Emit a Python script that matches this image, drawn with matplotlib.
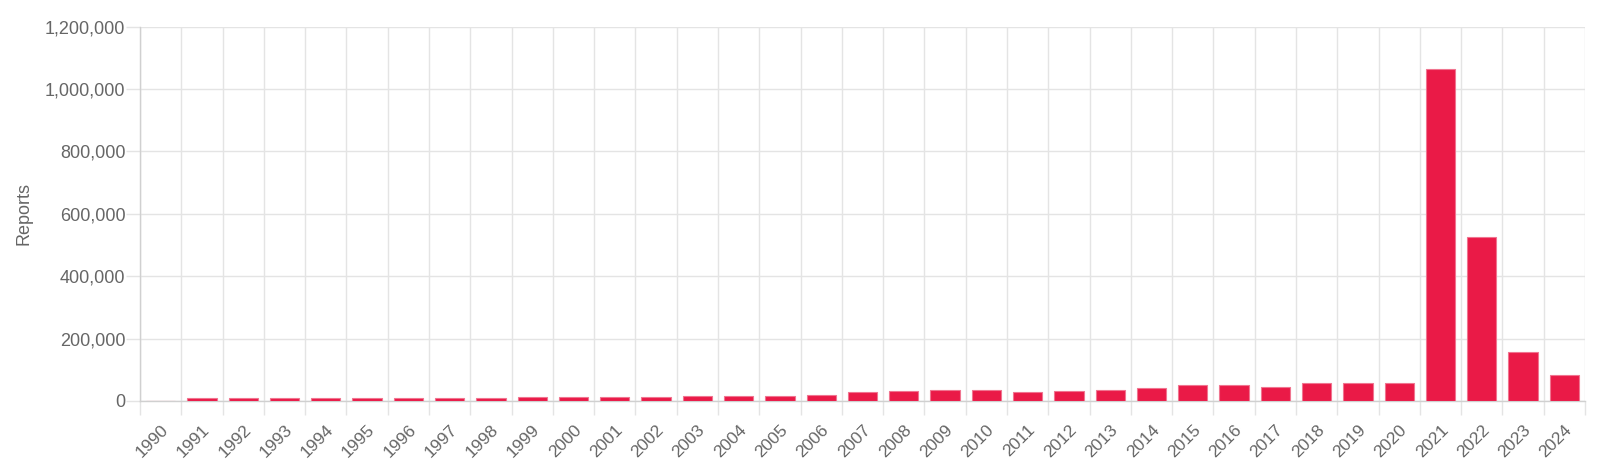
import matplotlib
matplotlib.use("Agg")
import matplotlib.pyplot as plt
import numpy as np
from matplotlib.ticker import FuncFormatter, FixedLocator

years = [str(y) for y in range(1990, 2025)]
reports = [800, 8600, 8600, 8400, 8500, 8400, 9500, 9800, 8700, 11500,
           14000, 13000, 14000, 17000, 15000, 16000, 18000, 30000, 32000, 35500,
           34000, 30000, 31000, 34000, 41000, 50500, 52000, 45000, 57000, 57000,
           57000, 1063000, 525000, 156000, 82000]
y_ticks = [0, 200000, 400000, 600000, 800000, 1000000, 1200000]

plt.rcParams['font.family'] = ['Liberation Sans', 'DejaVu Sans']

fig = plt.figure(figsize=(16, 4.69), dpi=100)
ax = fig.add_axes([0.0875, 0.145, 0.9031, 0.798])

x = np.arange(len(years))
ax.bar(x, reports, width=0.71, color='#EA1A47', edgecolor='#F07590', linewidth=0.8, zorder=3)

grid_c = '#E4E4E4'
ax.set_xlim(-0.5, len(years) - 0.5)
ax.set_ylim(0, 1200000)
ax.set_yticks(y_ticks)
ax.yaxis.set_major_formatter(FuncFormatter(lambda v, p: f"{int(v):,}"))
ax.set_xticks(x)
ax.set_xticklabels(years, rotation=45, ha='right', rotation_mode='anchor')
ax.xaxis.set_minor_locator(FixedLocator(np.arange(-0.5, len(years), 1.0)))

ax.tick_params(axis='x', which='major', length=0, pad=15, labelsize=12.5, labelcolor='#666666')
ax.tick_params(axis='x', which='minor', length=10, color=grid_c, width=1)
ax.tick_params(axis='y', which='major', length=10, color=grid_c, width=1, pad=0.5,
               labelsize=13, labelcolor='#666666')

ax.grid(axis='x', which='minor', color=grid_c, linewidth=1, zorder=0)
ax.grid(axis='y', which='major', color=grid_c, linewidth=1, zorder=0)
ax.grid(axis='x', which='major', visible=False)

for s in ['top', 'right']:
    ax.spines[s].set_visible(False)
ax.spines['left'].set_color('#D0D0D0')
ax.spines['bottom'].set_color('#D0D0D0')
ax.spines['left'].set_linewidth(1)
ax.spines['bottom'].set_linewidth(1)

ax.set_ylabel('Reports', fontsize=13, color='#666666')
ax.yaxis.set_label_coords(-0.0747, 0.5)

fig.savefig('out.png', dpi=100, facecolor='white')
